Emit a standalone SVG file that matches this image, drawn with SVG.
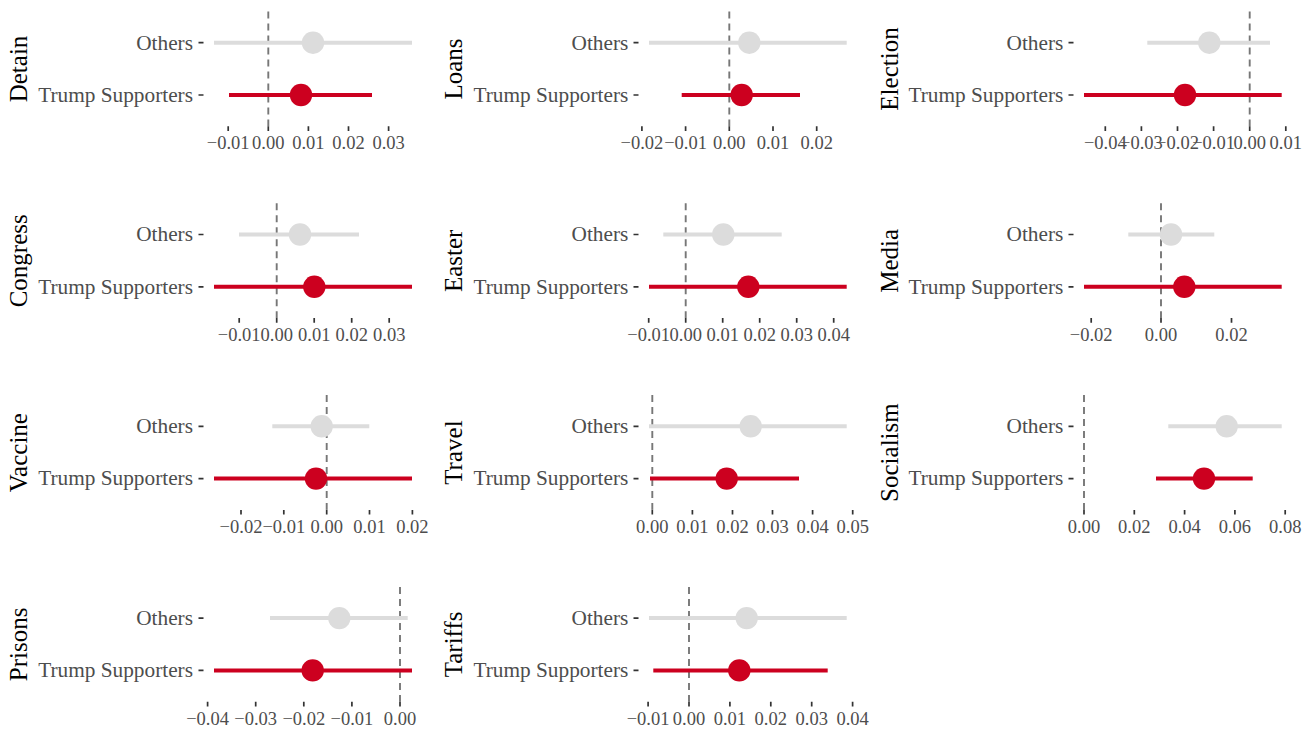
<svg xmlns="http://www.w3.org/2000/svg" width="1315" height="733" viewBox="0 0 1315 733">
<style>
.bg{fill:#ffffff}
.vl{stroke:#777777;stroke-width:1.9;stroke-dasharray:7 5;fill:none}
.go{stroke:#dcdcdc;stroke-width:4;fill:none}
.gd{fill:#dcdcdc}
.ro{stroke:#cc001f;stroke-width:4;fill:none}
.rd{fill:#cc001f}
.tk{stroke:#333333;stroke-width:1.7;fill:none}
.tl{font-family:"Liberation Serif",serif;font-size:18.5px;fill:#4d4d4d;text-anchor:middle}
.cl{font-family:"Liberation Serif",serif;font-size:21.3px;fill:#4d4d4d;text-anchor:end}
.st{font-family:"Liberation Serif",serif;font-size:25px;fill:#000000;text-anchor:middle}
</style>
<rect class="bg" x="0" y="0" width="1315" height="733"/>

<!-- Detain -->
<g id="detain">
<line class="vl" x1="268.3" y1="11.5" x2="268.3" y2="126.3"/>
<line class="go" x1="214" y1="42.7" x2="412" y2="42.7"/><circle class="gd" cx="313" cy="42.7" r="11.2"/>
<line class="ro" x1="229" y1="95" x2="372" y2="95"/><circle class="rd" cx="301" cy="95" r="11.2"/>
<path class="tk" d="M198.5 42.7H203.5M198.5 95H203.5M228.2 126.3V131M268.3 126.3V131M308.4 126.3V131M348.5 126.3V131M388.6 126.3V131"/>
<text class="cl" x="193" y="49.5">Others</text><text class="cl" x="193" y="101.8">Trump Supporters</text>
<text class="tl" x="228.2" y="149.3">−0.01</text><text class="tl" x="268.3" y="149.3">0.00</text><text class="tl" x="308.4" y="149.3">0.01</text><text class="tl" x="348.5" y="149.3">0.02</text><text class="tl" x="388.6" y="149.3">0.03</text>
<text class="st" transform="translate(26.5,69) rotate(-90)">Detain</text>
</g>

<!-- Loans -->
<g id="loans">
<line class="vl" x1="729.3" y1="11.5" x2="729.3" y2="126.3"/>
<line class="go" x1="649" y1="42.7" x2="846.7" y2="42.7"/><circle class="gd" cx="749.3" cy="42.7" r="11.2"/>
<line class="ro" x1="681.7" y1="95" x2="800" y2="95"/><circle class="rd" cx="741.7" cy="95" r="11.2"/>
<path class="tk" d="M633.5 42.7H638.5M633.5 95H638.5M641.9 126.3V131M685.6 126.3V131M729.3 126.3V131M773 126.3V131M816.7 126.3V131"/>
<text class="cl" x="628.3" y="49.5">Others</text><text class="cl" x="628.3" y="101.8">Trump Supporters</text>
<text class="tl" x="641.9" y="149.3">−0.02</text><text class="tl" x="685.6" y="149.3">−0.01</text><text class="tl" x="729.3" y="149.3">0.00</text><text class="tl" x="773" y="149.3">0.01</text><text class="tl" x="816.7" y="149.3">0.02</text>
<text class="st" transform="translate(462,69) rotate(-90)">Loans</text>
</g>

<!-- Election -->
<g id="election">
<line class="vl" x1="1249.7" y1="11.5" x2="1249.7" y2="126.3"/>
<line class="go" x1="1147.3" y1="42.7" x2="1270" y2="42.7"/><circle class="gd" cx="1209.3" cy="42.7" r="11.2"/>
<line class="ro" x1="1084" y1="95" x2="1281.7" y2="95"/><circle class="rd" cx="1185" cy="95" r="11.2"/>
<path class="tk" d="M1068.5 42.7H1073.5M1068.5 95H1073.5M1105.3 126.3V131M1141.4 126.3V131M1177.5 126.3V131M1213.6 126.3V131M1249.7 126.3V131M1285.8 126.3V131"/>
<text class="cl" x="1063.3" y="49.5">Others</text><text class="cl" x="1063.3" y="101.8">Trump Supporters</text>
<text class="tl" x="1105.3" y="149.3">−0.04</text><text class="tl" x="1141.4" y="149.3">−0.03</text><text class="tl" x="1177.5" y="149.3">−0.02</text><text class="tl" x="1213.6" y="149.3">−0.01</text><text class="tl" x="1249.7" y="149.3">0.00</text><text class="tl" x="1285.8" y="149.3">0.01</text>
<text class="st" transform="translate(897.5,69) rotate(-90)">Election</text>
</g>

<!-- Congress -->
<g id="congress" transform="translate(0,191.8)">
<line class="vl" x1="276.7" y1="11.5" x2="276.7" y2="126.3"/>
<line class="go" x1="239" y1="42.7" x2="359" y2="42.7"/><circle class="gd" cx="300" cy="42.7" r="11.2"/>
<line class="ro" x1="214" y1="95" x2="412" y2="95"/><circle class="rd" cx="314.3" cy="95" r="11.2"/>
<path class="tk" d="M198.5 42.7H203.5M198.5 95H203.5M239.2 126.3V131M276.7 126.3V131M314.2 126.3V131M351.7 126.3V131M389.2 126.3V131"/>
<text class="cl" x="193" y="49.5">Others</text><text class="cl" x="193" y="101.8">Trump Supporters</text>
<text class="tl" x="239.2" y="149.3">−0.01</text><text class="tl" x="276.7" y="149.3">0.00</text><text class="tl" x="314.2" y="149.3">0.01</text><text class="tl" x="351.7" y="149.3">0.02</text><text class="tl" x="389.2" y="149.3">0.03</text>
<text class="st" transform="translate(26.5,69) rotate(-90)">Congress</text>
</g>

<!-- Easter -->
<g id="easter" transform="translate(0,191.8)">
<line class="vl" x1="685.7" y1="11.5" x2="685.7" y2="126.3"/>
<line class="go" x1="663.3" y1="42.7" x2="781.7" y2="42.7"/><circle class="gd" cx="723.3" cy="42.7" r="11.2"/>
<line class="ro" x1="649" y1="95" x2="846.7" y2="95"/><circle class="rd" cx="748.3" cy="95" r="11.2"/>
<path class="tk" d="M633.5 42.7H638.5M633.5 95H638.5M648.7 126.3V131M685.7 126.3V131M722.7 126.3V131M759.7 126.3V131M796.7 126.3V131M833.7 126.3V131"/>
<text class="cl" x="628.3" y="49.5">Others</text><text class="cl" x="628.3" y="101.8">Trump Supporters</text>
<text class="tl" x="648.7" y="149.3">−0.01</text><text class="tl" x="685.7" y="149.3">0.00</text><text class="tl" x="722.7" y="149.3">0.01</text><text class="tl" x="759.7" y="149.3">0.02</text><text class="tl" x="796.7" y="149.3">0.03</text><text class="tl" x="833.7" y="149.3">0.04</text>
<text class="st" transform="translate(462,69) rotate(-90)">Easter</text>
</g>

<!-- Media -->
<g id="media" transform="translate(0,191.8)">
<line class="vl" x1="1161" y1="11.5" x2="1161" y2="126.3"/>
<line class="go" x1="1128.3" y1="42.7" x2="1214.3" y2="42.7"/><circle class="gd" cx="1171" cy="42.7" r="11.2"/>
<line class="ro" x1="1084" y1="95" x2="1281.7" y2="95"/><circle class="rd" cx="1184.3" cy="95" r="11.2"/>
<path class="tk" d="M1068.5 42.7H1073.5M1068.5 95H1073.5M1091.2 126.3V131M1161 126.3V131M1231.5 126.3V131"/>
<text class="cl" x="1063.3" y="49.5">Others</text><text class="cl" x="1063.3" y="101.8">Trump Supporters</text>
<text class="tl" x="1091.2" y="149.3">−0.02</text><text class="tl" x="1161" y="149.3">0.00</text><text class="tl" x="1231.5" y="149.3">0.02</text>
<text class="st" transform="translate(897.5,69) rotate(-90)">Media</text>
</g>

<!-- Vaccine -->
<g id="vaccine" transform="translate(0,383.6)">
<line class="vl" x1="326.7" y1="11.5" x2="326.7" y2="126.3"/>
<line class="go" x1="272.3" y1="42.7" x2="369.3" y2="42.7"/><circle class="gd" cx="321.7" cy="42.7" r="11.2"/>
<line class="ro" x1="214" y1="95" x2="412" y2="95"/><circle class="rd" cx="316" cy="95" r="11.2"/>
<path class="tk" d="M198.5 42.7H203.5M198.5 95H203.5M241 126.3V131M283.8 126.3V131M326.7 126.3V131M369.5 126.3V131M412.4 126.3V131"/>
<text class="cl" x="193" y="49.5">Others</text><text class="cl" x="193" y="101.8">Trump Supporters</text>
<text class="tl" x="241" y="149.3">−0.02</text><text class="tl" x="283.8" y="149.3">−0.01</text><text class="tl" x="326.7" y="149.3">0.00</text><text class="tl" x="369.5" y="149.3">0.01</text><text class="tl" x="412.4" y="149.3">0.02</text>
<text class="st" transform="translate(26.5,69) rotate(-90)">Vaccine</text>
</g>

<!-- Travel -->
<g id="travel" transform="translate(0,383.6)">
<line class="vl" x1="652.3" y1="11.5" x2="652.3" y2="126.3"/>
<line class="go" x1="649" y1="42.7" x2="846.7" y2="42.7"/><circle class="gd" cx="750.7" cy="42.7" r="11.2"/>
<line class="ro" x1="650" y1="95" x2="799" y2="95"/><circle class="rd" cx="726.7" cy="95" r="11.2"/>
<path class="tk" d="M633.5 42.7H638.5M633.5 95H638.5M652.3 126.3V131M692.4 126.3V131M732.5 126.3V131M772.5 126.3V131M812.6 126.3V131M852.7 126.3V131"/>
<text class="cl" x="628.3" y="49.5">Others</text><text class="cl" x="628.3" y="101.8">Trump Supporters</text>
<text class="tl" x="652.3" y="149.3">0.00</text><text class="tl" x="692.4" y="149.3">0.01</text><text class="tl" x="732.5" y="149.3">0.02</text><text class="tl" x="772.5" y="149.3">0.03</text><text class="tl" x="812.6" y="149.3">0.04</text><text class="tl" x="852.7" y="149.3">0.05</text>
<text class="st" transform="translate(462,69) rotate(-90)">Travel</text>
</g>

<!-- Socialism -->
<g id="socialism" transform="translate(0,383.6)">
<line class="vl" x1="1084" y1="11.5" x2="1084" y2="126.3"/>
<line class="go" x1="1168.3" y1="42.7" x2="1281.7" y2="42.7"/><circle class="gd" cx="1226.7" cy="42.7" r="11.2"/>
<line class="ro" x1="1156" y1="95" x2="1252.7" y2="95"/><circle class="rd" cx="1204" cy="95" r="11.2"/>
<path class="tk" d="M1068.5 42.7H1073.5M1068.5 95H1073.5M1084 126.3V131M1134.3 126.3V131M1184.6 126.3V131M1234.9 126.3V131M1285.2 126.3V131"/>
<text class="cl" x="1063.3" y="49.5">Others</text><text class="cl" x="1063.3" y="101.8">Trump Supporters</text>
<text class="tl" x="1084" y="149.3">0.00</text><text class="tl" x="1134.3" y="149.3">0.02</text><text class="tl" x="1184.6" y="149.3">0.04</text><text class="tl" x="1234.9" y="149.3">0.06</text><text class="tl" x="1285.2" y="149.3">0.08</text>
<text class="st" transform="translate(897.5,69) rotate(-90)">Socialism</text>
</g>

<!-- Prisons -->
<g id="prisons" transform="translate(0,575.4)">
<line class="vl" x1="400" y1="11.5" x2="400" y2="126.3"/>
<line class="go" x1="270" y1="42.7" x2="407.7" y2="42.7"/><circle class="gd" cx="339.3" cy="42.7" r="11.2"/>
<line class="ro" x1="214" y1="95" x2="412" y2="95"/><circle class="rd" cx="312.7" cy="95" r="11.2"/>
<path class="tk" d="M198.5 42.7H203.5M198.5 95H203.5M207.6 126.3V131M255.7 126.3V131M303.8 126.3V131M351.9 126.3V131M400 126.3V131"/>
<text class="cl" x="193" y="49.5">Others</text><text class="cl" x="193" y="101.8">Trump Supporters</text>
<text class="tl" x="207.6" y="149.3">−0.04</text><text class="tl" x="255.7" y="149.3">−0.03</text><text class="tl" x="303.8" y="149.3">−0.02</text><text class="tl" x="351.9" y="149.3">−0.01</text><text class="tl" x="400" y="149.3">0.00</text>
<text class="st" transform="translate(26.5,69) rotate(-90)">Prisons</text>
</g>

<!-- Tariffs -->
<g id="tariffs" transform="translate(0,575.4)">
<line class="vl" x1="689" y1="11.5" x2="689" y2="126.3"/>
<line class="go" x1="649" y1="42.7" x2="846.7" y2="42.7"/><circle class="gd" cx="746.7" cy="42.7" r="11.2"/>
<line class="ro" x1="653.3" y1="95" x2="827.7" y2="95"/><circle class="rd" cx="739.3" cy="95" r="11.2"/>
<path class="tk" d="M633.5 42.7H638.5M633.5 95H638.5M648.1 126.3V131M689 126.3V131M729.9 126.3V131M770.8 126.3V131M811.7 126.3V131M852.6 126.3V131"/>
<text class="cl" x="628.3" y="49.5">Others</text><text class="cl" x="628.3" y="101.8">Trump Supporters</text>
<text class="tl" x="648.1" y="149.3">−0.01</text><text class="tl" x="689" y="149.3">0.00</text><text class="tl" x="729.9" y="149.3">0.01</text><text class="tl" x="770.8" y="149.3">0.02</text><text class="tl" x="811.7" y="149.3">0.03</text><text class="tl" x="852.6" y="149.3">0.04</text>
<text class="st" transform="translate(462,69) rotate(-90)">Tariffs</text>
</g>
</svg>
